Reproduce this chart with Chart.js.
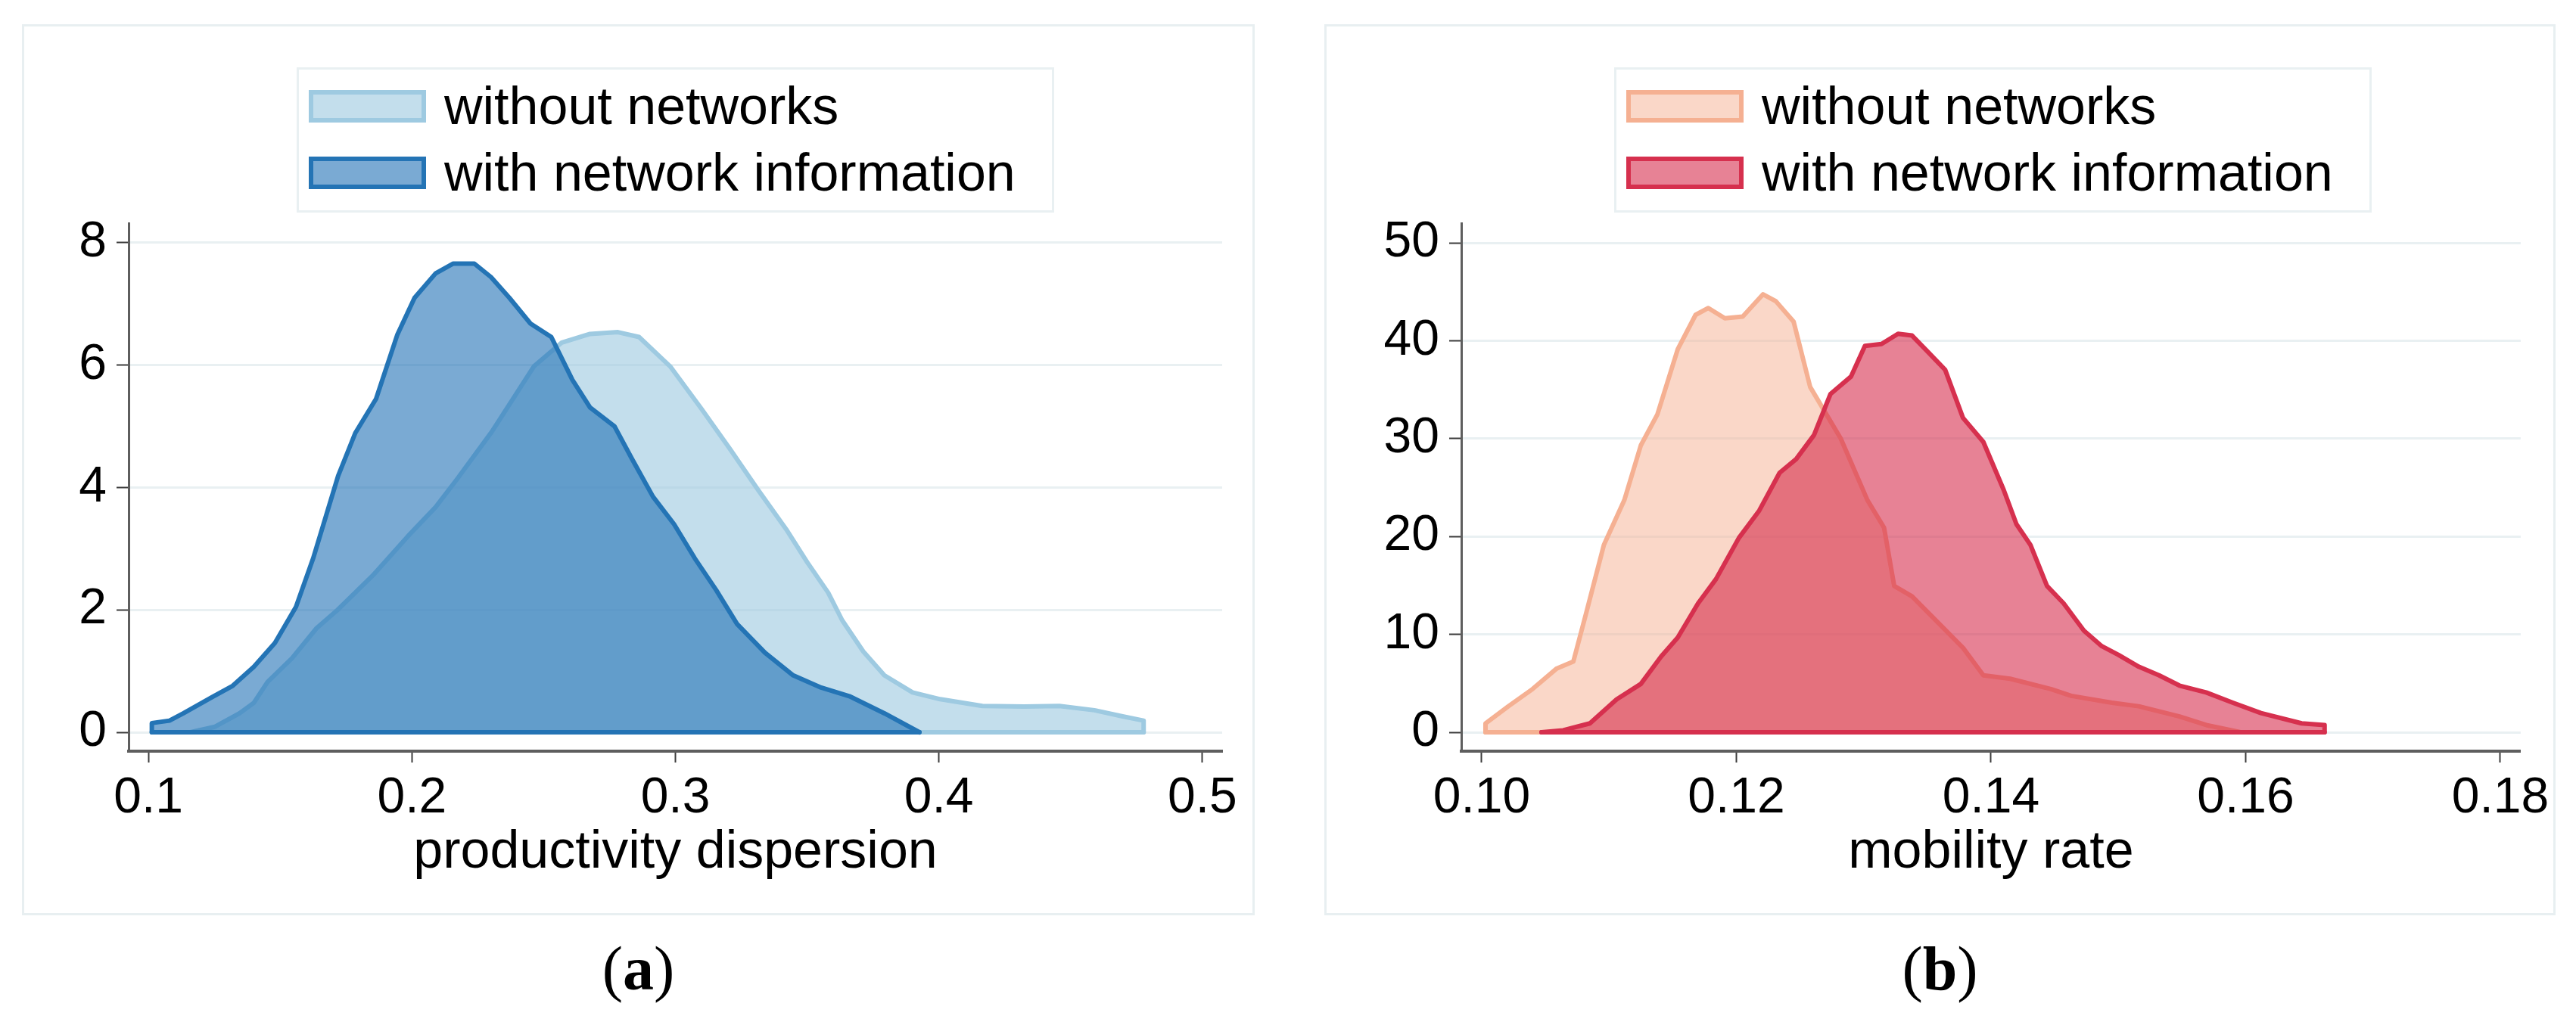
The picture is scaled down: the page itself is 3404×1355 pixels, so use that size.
<!DOCTYPE html>
<html>
<head>
<meta charset="utf-8">
<script src="https://cdn.jsdelivr.net/npm/chart.js@4.4.1/dist/chart.umd.min.js"></script>
<style>
  html, body { margin: 0; padding: 0; background: #fff; }
  body { width: 3404px; height: 1355px; position: relative; overflow: hidden;
         font-family: 'Liberation Sans', Arial, sans-serif; }
  .frame { position: absolute; box-sizing: border-box; border: 3px solid #e8eff1; }
  canvas { position: absolute; }
  .legend { position: absolute; box-sizing: border-box; border: 3px solid #e9f0f2; background: #fff; }
  .legend .row { position: absolute; left: 13px; height: 43px; display: flex; align-items: center; }
  .legend .swatch { box-sizing: border-box; width: 155px; height: 43px; border: 6px solid; }
  .legend .label { margin-left: 24px; font-size: 70px; line-height: 43px; color: #000; white-space: nowrap; }
  .caption { position: absolute; top: 1240px; text-align: center;
             font-family: 'Liberation Serif', 'Times New Roman', serif; font-size: 82px; line-height: 82px; }
</style>
</head>
<body>
<div class="frame" style="left:29px;top:32px;width:1629px;height:1178px;"></div>
<div class="frame" style="left:1750px;top:32px;width:1627px;height:1178px;"></div>
<canvas id="dispersionChart" width="1629" height="1178" style="left:29px;top:32px;"></canvas>
<canvas id="mobilityChart" width="1627" height="1178" style="left:1750px;top:32px;"></canvas>
<div class="legend" id="dispersionLegend" style="left:392px;top:89px;width:1001px;height:192px;"></div>
<div class="legend" id="mobilityLegend" style="left:2133px;top:89px;width:1001px;height:192px;"></div>
<div class="caption" style="left:29px;width:1629px;">(<b>a</b>)</div>
<div class="caption" style="left:1750px;width:1627px;">(<b>b</b>)</div>

<script>
const SERIES_LABELS = ['without networks', 'with network information'];

// (a) productivity dispersion, kernel densities
const dispWithoutX = [0.116, 0.1253, 0.1346, 0.14, 0.1452, 0.1545, 0.1638, 0.1718, 0.1851, 0.1984, 0.209,
  0.217, 0.2303, 0.2396, 0.2463, 0.2569, 0.2676, 0.2782, 0.2862, 0.298, 0.31, 0.3207, 0.3314, 0.342,
  0.35, 0.358, 0.3633, 0.3713, 0.3793, 0.39, 0.4005, 0.4165, 0.4324, 0.4457, 0.459, 0.4697, 0.4777, 0.4777];
const dispWithoutY = [0, 0.09, 0.31, 0.48, 0.82, 1.21, 1.7, 2.0, 2.56, 3.2, 3.68,
  4.13, 4.91, 5.53, 5.98, 6.37, 6.51, 6.54, 6.46, 5.98, 5.28, 4.63, 3.96, 3.32,
  2.78, 2.28, 1.83, 1.32, 0.93, 0.65, 0.54, 0.43, 0.42, 0.43, 0.36, 0.26, 0.19, 0];

const dispWithX = [0.1013, 0.1013, 0.108, 0.1133, 0.124, 0.132, 0.14, 0.148, 0.156, 0.1625, 0.172, 0.1785,
  0.1864, 0.1944, 0.201, 0.209, 0.2157, 0.2237, 0.23, 0.237, 0.245, 0.2529, 0.2609, 0.2676, 0.2769,
  0.2835, 0.2915, 0.2995, 0.3074, 0.3154, 0.3234, 0.334, 0.3447, 0.3553, 0.366, 0.3793, 0.3926];
const dispWithY = [0, 0.15, 0.19, 0.31, 0.57, 0.76, 1.07, 1.46, 2.05, 2.84, 4.19, 4.89,
  5.45, 6.49, 7.1, 7.5, 7.66, 7.66, 7.44, 7.1, 6.68, 6.46, 5.76, 5.31, 5.0,
  4.47, 3.85, 3.4, 2.84, 2.33, 1.77, 1.3, 0.93, 0.73, 0.59, 0.31, 0];

// (b) mobility rate, kernel densities
const mobWithoutX = [0.1003, 0.1003, 0.1021, 0.104, 0.1059, 0.1072, 0.1082, 0.1096, 0.1112, 0.1125, 0.1138,
  0.1154, 0.1168, 0.1178, 0.1191, 0.1205, 0.1221, 0.1231, 0.1245, 0.1258, 0.1282, 0.1303, 0.1316,
  0.1324, 0.1338, 0.1378, 0.1394, 0.1415, 0.1447, 0.1463, 0.1495, 0.1516, 0.1548, 0.1569, 0.1596];
const mobWithoutY = [0, 0.9, 2.66, 4.42, 6.52, 7.22, 12.13, 19.14, 23.7, 29.31, 32.47,
  39.13, 42.64, 43.34, 42.29, 42.46, 44.74, 44.04, 41.94, 35.27, 30.01, 23.7, 20.9,
  14.94, 13.88, 8.63, 5.82, 5.47, 4.42, 3.72, 3.02, 2.66, 1.61, 0.74, 0];

const mobWithX = [0.1047, 0.1064, 0.1085, 0.1106, 0.1125, 0.1141, 0.1154, 0.117, 0.1184, 0.1202, 0.1218,
  0.1234, 0.1247, 0.1261, 0.1274, 0.129, 0.1301, 0.1314, 0.1327, 0.1338, 0.1351, 0.1364, 0.1378,
  0.1394, 0.141, 0.142, 0.1431, 0.1444, 0.1457, 0.1473, 0.1487, 0.15, 0.1516, 0.1532, 0.1548,
  0.1569, 0.159, 0.1612, 0.1644, 0.1662, 0.1662];
const mobWithY = [0, 0.2, 0.91, 3.37, 4.94, 7.75, 9.68, 13.18, 15.64, 19.85, 22.65,
  26.51, 27.91, 30.36, 34.57, 36.33, 39.48, 39.66, 40.71, 40.53, 38.78, 37.03, 32.12,
  29.66, 24.75, 21.25, 19.14, 14.94, 13.18, 10.38, 8.8, 7.92, 6.7, 5.82, 4.77,
  4.07, 3.02, 1.96, 0.91, 0.74, 0];

// axis ticks
const dispTicksX = [0.1, 0.2, 0.3, 0.4, 0.5];
const dispTickLabelsX = ['0.1', '0.2', '0.3', '0.4', '0.5'];
const dispTicksY = [0, 2, 4, 6, 8];
const mobTicksX = [0.10, 0.12, 0.14, 0.16, 0.18];
const mobTickLabelsX = ['0.10', '0.12', '0.14', '0.16', '0.18'];
const mobTicksY = [0, 10, 20, 30, 40, 50];

const BLUES = {
  without: { line: '#9ecae1', fill: 'rgba(158, 202, 225, 0.62)' },
  with: { line: '#2474b5', fill: 'rgba(33, 113, 181, 0.6)' },
};
const REDS = {
  without: { line: '#f5b092', fill: 'rgba(245, 176, 146, 0.5)' },
  with: { line: '#d6304e', fill: 'rgba(214, 40, 72, 0.58)' },
};

const FONT = "'Liberation Sans', Arial, sans-serif";
const TICK_COLOR = '#3c3c3c';
const AXIS_COLOR = '#5e5e5e';
const GRID_COLOR = '#e9f0f2';

const toPoints = (xs, ys) => xs.map((x, i) => ({ x, y: ys[i] }));
const baseline = (xs) => [{ x: xs[0], y: 0 }, { x: xs[xs.length - 1], y: 0 }];

const densityDataset = (label, points, colors, fill) => ({
  label,
  data: points,
  borderColor: colors.line,
  backgroundColor: colors.fill,
  borderWidth: 6,
  borderJoinStyle: 'round',
  borderCapStyle: 'round',
  pointRadius: 0,
  tension: 0,
  fill,
});

const renderLegend = (elementId, colors) => {
  const el = document.querySelector(`#${elementId}`);
  const rowTops = [27, 115];
  [colors.without, colors.with].forEach((c, i) => {
    const row = document.createElement('div');
    row.className = 'row';
    row.style.top = `${rowTops[i]}px`;
    row.innerHTML = `<span class="swatch" style="background:${c.fill};border-color:${c.line}"></span>` +
      `<span class="label">${SERIES_LABELS[i]}</span>`;
    el.appendChild(row);
  });
};

const renderDensityChart = (elementId, {
  withoutX, withoutY, withX, withY, colors,
  xMin, xMax, yMin, yMax, xTicks, xTickLabels, yTicks, xTitle,
  yAxisWidth, rightPad,
}) => {
  // first dataset is drawn on top
  const datasets = [
    densityDataset('', baseline(withX), colors.with, false),
    densityDataset(SERIES_LABELS[1], toPoints(withX, withY), colors.with, 'origin'),
    densityDataset('', baseline(withoutX), colors.without, false),
    densityDataset(SERIES_LABELS[0], toPoints(withoutX, withoutY), colors.without, 'origin'),
  ];

  const SCALES = {
    x: {
      type: 'linear',
      min: xMin,
      max: xMax,
      afterFit: (scale) => { scale.height = 217; },
      afterBuildTicks: (scale) => { scale.ticks = xTicks.map((value) => ({ value })); },
      ticks: {
        callback: (_, index) => xTickLabels[index],
        font: { family: FONT, size: 66 },
        color: '#000',
        padding: 8,
        autoSkip: false,
        maxRotation: 0,
      },
      grid: {
        drawOnChartArea: false,
        drawTicks: true,
        tickLength: 15,
        tickWidth: 2,
        tickColor: TICK_COLOR,
      },
      border: { display: true, color: AXIS_COLOR, width: 4 },
      title: {
        display: true,
        text: xTitle,
        font: { family: FONT, size: 70 },
        color: '#000',
        padding: { top: 0, bottom: 40 },
      },
    },
    y: {
      type: 'linear',
      min: yMin,
      max: yMax,
      afterFit: (scale) => { scale.width = yAxisWidth; },
      afterBuildTicks: (scale) => { scale.ticks = yTicks.map((value) => ({ value })); },
      ticks: {
        callback: (value) => String(value),
        font: { family: FONT, size: 66 },
        color: '#000',
        padding: 13,
      },
      grid: {
        color: GRID_COLOR,
        lineWidth: 3,
        drawTicks: true,
        tickLength: 16,
        tickWidth: 2,
        tickColor: TICK_COLOR,
      },
      border: { display: true, color: AXIS_COLOR, width: 3 },
    },
  };

  return new Chart(document.querySelector(`#${elementId}`), {
    type: 'line',
    data: { datasets },
    options: {
      responsive: false,
      animation: false,
      devicePixelRatio: 1,
      events: [],
      layout: { padding: { top: 263, right: rightPad, left: 0, bottom: 0 } },
      plugins: {
        legend: { display: false },
        tooltip: { enabled: false },
      },
      scales: SCALES,
    },
  });
};

renderDensityChart('dispersionChart', {
  withoutX: dispWithoutX, withoutY: dispWithoutY, withX: dispWithX, withY: dispWithY,
  colors: BLUES,
  xMin: 0.0925, xMax: 0.5075, yMin: -0.309, yMax: 8.321,
  xTicks: dispTicksX, xTickLabels: dispTickLabelsX, yTicks: dispTicksY,
  xTitle: 'productivity dispersion',
  yAxisWidth: 141, rightPad: 43,
});

renderDensityChart('mobilityChart', {
  withoutX: mobWithoutX, withoutY: mobWithoutY, withX: mobWithX, withY: mobWithY,
  colors: REDS,
  xMin: 0.0984, xMax: 0.1816, yMin: -1.93, yMax: 52.01,
  xTicks: mobTicksX, xTickLabels: mobTickLabelsX, yTicks: mobTicksY,
  xTitle: 'mobility rate',
  yAxisWidth: 181, rightPad: 41,
});

renderLegend('dispersionLegend', BLUES);
renderLegend('mobilityLegend', REDS);
</script>
</body>
</html>
